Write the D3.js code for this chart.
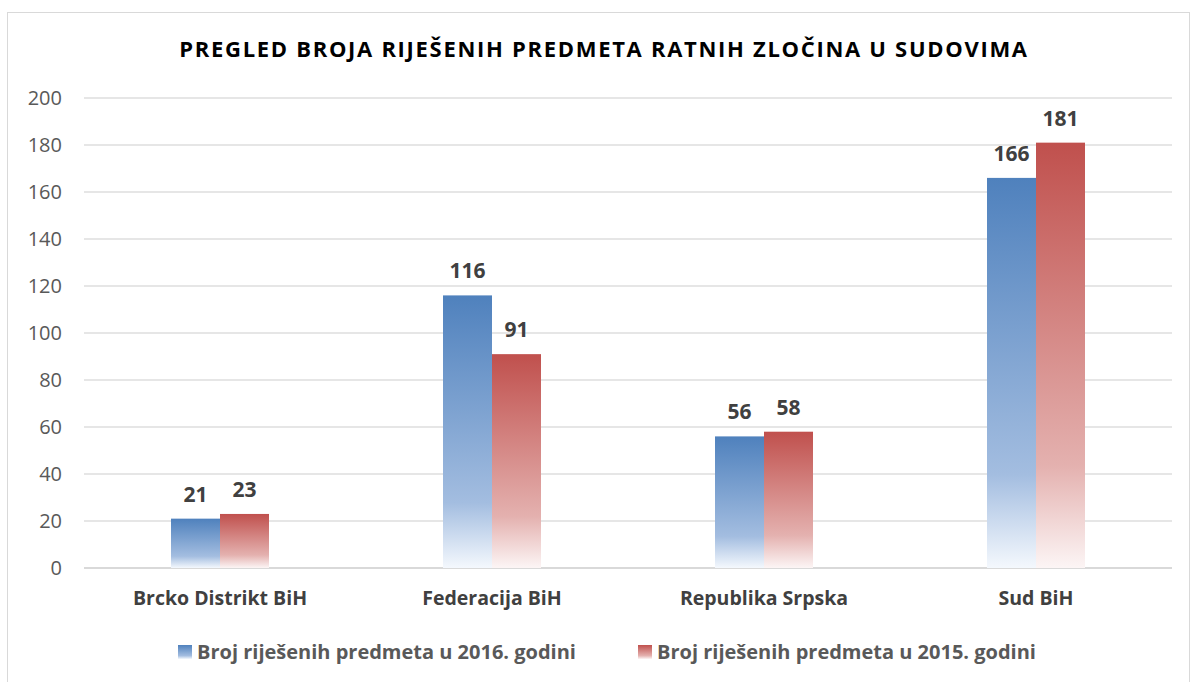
<!DOCTYPE html>
<html>
<head>
<meta charset="utf-8">
<script src="https://cdn.jsdelivr.net/npm/d3@7"></script>
<style>
body { margin: 0; background: #fff; }
svg { font-family: "Open Sans", "Liberation Sans", sans-serif; }
</style>
</head>
<body>
<div id="chart"></div>
<script>
var WIDTH = 1192;
var HEIGHT = 682;

var categories = ["Brcko Distrikt BiH", "Federacija BiH", "Republika Srpska", "Sud BiH"];
var seriesNames = ["Broj riješenih predmeta u 2016. godini", "Broj riješenih predmeta u 2015. godini"];
var values2016 = [21, 116, 56, 166];
var values2015 = [23, 91, 58, 181];
var yTicks = [0, 20, 40, 60, 80, 100, 120, 140, 160, 180, 200];

var colors = ["#4F81BD", "#C0504D"];
var lightColors = [["#A3BDE0", "#F4F8FD"], ["#E4B1AF", "#FCF5F5"]];

var margin = { left: 84, right: 20, top: 98, bottom: 114 };
var plotW = WIDTH - margin.left - margin.right;
var plotH = HEIGHT - margin.top - margin.bottom;

var svg = d3.select("#chart").append("svg")
	.attr("width", WIDTH)
	.attr("height", HEIGHT);

// gradients
var defs = svg.append("defs");
colors.forEach(function(c, i) {
	var g = defs.append("linearGradient")
		.attr("id", "grad" + i)
		.attr("x1", 0).attr("y1", 0).attr("x2", 0).attr("y2", 1);
	g.append("stop").attr("offset", "0%").attr("stop-color", c);
	g.append("stop").attr("offset", "76%").attr("stop-color", lightColors[i][0]);
	g.append("stop").attr("offset", "100%").attr("stop-color", lightColors[i][1]);
});

// frame
svg.append("rect")
	.attr("x", 7.5).attr("y", 12.5)
	.attr("width", WIDTH - 10).attr("height", HEIGHT - 8)
	.attr("fill", "none")
	.attr("stroke", "#D9D9D9");

svg.append("text")
	.attr("x", 604).attr("y", 57)
	.attr("text-anchor", "middle")
	.attr("font-size", "22px")
	.attr("font-weight", "bold")
	.attr("letter-spacing", "1.7px")
	.attr("fill", "#000")
	.text("PREGLED BROJA RIJEŠENIH PREDMETA RATNIH ZLOČINA U SUDOVIMA");

var x0 = d3.scaleBand().domain(categories).range([margin.left, margin.left + plotW]);
var x1 = d3.scaleBand().domain([0, 1]).range([0, 98]);
var y = d3.scaleLinear().domain([0, 200]).range([margin.top + plotH, margin.top]);

// grid
svg.append("g").selectAll("line")
	.data(yTicks)
	.join("line")
	.attr("x1", margin.left).attr("x2", margin.left + plotW)
	.attr("y1", function(d) { return y(d); })
	.attr("y2", function(d) { return y(d); })
	.attr("stroke", function(d) { return d === 0 ? "#D9D9D9" : "#E6E6E6"; })
	.attr("stroke-width", 2);

var yAxis = svg.append("g")
	.attr("transform", "translate(" + (margin.left - 22) + ",0)")
	.call(d3.axisLeft(y).tickValues(yTicks).tickSize(0).tickPadding(0));
yAxis.select(".domain").remove();
yAxis.selectAll("text")
	.attr("font-size", "20px")
	.attr("font-family", "'Open Sans', sans-serif")
	.attr("fill", "#595959");

var xAxis = svg.append("g")
	.attr("transform", "translate(0," + (margin.top + plotH) + ")")
	.call(d3.axisBottom(x0).tickSize(0).tickPadding(0));
xAxis.select(".domain").remove();
xAxis.selectAll("text")
	.attr("dy", "37px")
	.attr("font-size", "19.5px")
	.attr("font-weight", "bold")
	.attr("font-family", "'Open Sans', sans-serif")
	.attr("fill", "#404040");

var series = [values2016, values2015];
var groups = svg.append("g").selectAll("g")
	.data(categories)
	.join("g")
	.attr("transform", function(d) { return "translate(" + (x0(d) + x0.bandwidth() / 2 - 49) + ",0)"; });

groups.selectAll("rect")
	.data(function(d, i) { return series.map(function(s, k) { return { k: k, v: s[i] }; }); })
	.join("rect")
	.attr("x", function(d) { return x1(d.k); })
	.attr("width", x1.bandwidth())
	.attr("y", function(d) { return y(d.v); })
	.attr("height", function(d) { return y(0) - y(d.v); })
	.attr("fill", function(d) { return "url(#grad" + d.k + ")"; });

groups.selectAll("text")
	.data(function(d, i) { return series.map(function(s, k) { return { k: k, v: s[i] }; }); })
	.join("text")
	.attr("x", function(d) { return x1(d.k) + x1.bandwidth() / 2; })
	.attr("y", function(d) { return y(d.v) - 17; })
	.attr("text-anchor", "middle")
	.attr("font-size", "21px")
	.attr("font-weight", "bold")
	.attr("fill", "#404040")
	.text(function(d) { return d.v; });

// legend
var legendX = [178, 638];
var legend = svg.append("g").selectAll("g")
	.data(seriesNames)
	.join("g")
	.attr("transform", function(d, i) { return "translate(" + legendX[i] + ",645)"; });
legend.append("rect")
	.attr("width", 14).attr("height", 14)
	.attr("fill", function(d, i) { return "url(#grad" + i + ")"; });
legend.append("text")
	.attr("x", 19).attr("y", 14)
	.attr("font-size", "20px")
	.attr("font-weight", "bold")
	.attr("fill", "#595959")
	.text(function(d) { return d; });
</script>
</body>
</html>
